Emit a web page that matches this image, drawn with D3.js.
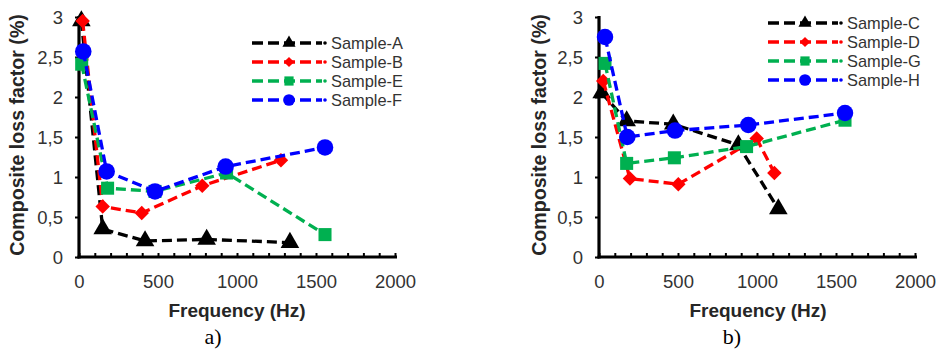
<!DOCTYPE html>
<html>
<head>
<meta charset="utf-8">
<script src="https://cdn.jsdelivr.net/npm/d3@7"></script>
<style>
  html, body { margin: 0; padding: 0; background: #fff; }
  svg { display: block; }
</style>
</head>
<body>
<svg id="chart" width="942" height="353"></svg>
<script>
// ---------- data ----------
const xTicks = [0, 500, 1000, 1500, 2000];
const yTicks = [0, 0.5, 1, 1.5, 2, 2.5, 3];
const yTickLabels = ["0", "0,5", "1", "1,5", "2", "2,5", "3"];

// Panel a)
const freqA = [15, 150, 418, 808, 1335];
const valA  = [2.95, 0.35, 0.2, 0.22, 0.18];
const freqB = [23, 150, 397, 780, 1278];
const valB  = [2.95, 0.63, 0.55, 0.89, 1.21];
const freqE = [17, 181, 481, 934, 1557];
const valE  = [2.41, 0.86, 0.82, 1.05, 0.28];
const freqF = [27, 175, 481, 928, 1557];
const valF  = [2.57, 1.07, 0.82, 1.13, 1.37];

// Panel b)
const freqC = [17, 175, 470, 882, 1135];
const valC  = [2.05, 1.7, 1.66, 1.4, 0.6];
const freqD = [27, 196, 502, 998, 1110];
const valD  = [2.2, 0.98, 0.91, 1.48, 1.05];
const freqG = [38, 175, 477, 934, 1557];
const valG  = [2.42, 1.17, 1.24, 1.38, 1.71];
const freqH = [38, 179, 481, 945, 1557];
const valH  = [2.75, 1.5, 1.58, 1.65, 1.8];

const namesA = ["Sample-A", "Sample-B", "Sample-E", "Sample-F"];
const namesB = ["Sample-C", "Sample-D", "Sample-G", "Sample-H"];
const panelLabels = ["a)", "b)"];
const xTitle = "Frequency (Hz)";
const yTitle = "Composite loss factor (%)";

// ---------- styles ----------
const COLORS = { black: "#000000", red: "#ff0000", green: "#00b050", blue: "#0000ff" };
const MARK = {
  tri:  { type: d3.symbolTriangle, size: 150, rot: 0 },
  dia:  { type: d3.symbolSquare,   size: 105, rot: 45 },
  sq:   { type: d3.symbolSquare,   size: 170, rot: 0 },
  circ: { type: d3.symbolCircle,   size: 215, rot: 0 }
};

const panels = [
  {
    x0: 79, label: panelLabels[0], labelX: 213, titleX: 237, yTitleX: 17,
    legend: { x: 252, y: 43 },
    series: [
      { name: namesA[0], f: freqA, v: valA, color: COLORS.black, mark: MARK.tri },
      { name: namesA[1], f: freqB, v: valB, color: COLORS.red,   mark: MARK.dia },
      { name: namesA[2], f: freqE, v: valE, color: COLORS.green, mark: MARK.sq },
      { name: namesA[3], f: freqF, v: valF, color: COLORS.blue,  mark: MARK.circ }
    ]
  },
  {
    x0: 599, label: panelLabels[1], labelX: 732, titleX: 758, yTitleX: 539,
    legend: { x: 768, y: 23 },
    series: [
      { name: namesB[0], f: freqC, v: valC, color: COLORS.black, mark: MARK.tri },
      { name: namesB[1], f: freqD, v: valD, color: COLORS.red,   mark: MARK.dia },
      { name: namesB[2], f: freqG, v: valG, color: COLORS.green, mark: MARK.sq },
      { name: namesB[3], f: freqH, v: valH, color: COLORS.blue,  mark: MARK.circ }
    ]
  }
];

const svg = d3.select("#chart");
const FONT = "Arial, 'Liberation Sans', Helvetica, sans-serif";

function drawPanel(p) {
  const g = svg.append("g");
  const x = d3.scaleLinear().domain([0, 2000]).range([p.x0, p.x0 + 316]);
  const y = d3.scaleLinear().domain([0, 3]).range([257, 17]);

  // x axis with minor ticks every 100 Hz
  const xAxis = d3.axisBottom(x)
    .tickValues(d3.range(0, 2001, 100))
    .tickSize(-4)
    .tickSizeOuter(0)
    .tickFormat(d => xTicks.includes(d) ? String(d) : "");
  const gx = g.append("g").attr("transform", `translate(0,${y(0)})`).call(xAxis);
  gx.select(".domain").attr("stroke", "#000").attr("stroke-width", 3.2)
    .attr("d", `M${x(0) - 1.5},0H${x(2000) + 2}`);
  gx.selectAll(".tick line").attr("stroke", "#000").attr("stroke-width", 2);
  gx.selectAll(".tick text")
    .attr("y", 0).attr("dy", 0)
    .attr("transform", "translate(0,31)")
    .attr("font-family", FONT).attr("font-size", 18.5).attr("fill", "#333");

  // y axis
  const yAxis = d3.axisLeft(y)
    .tickValues(yTicks)
    .tickSize(4)
    .tickSizeOuter(0)
    .tickFormat((d, i) => yTickLabels[i]);
  const gy = g.append("g").attr("transform", `translate(${x(0)},0)`).call(yAxis);
  gy.select(".domain").attr("stroke", "#000").attr("stroke-width", 3.2)
    .attr("d", `M0,${y(0) + 1.5}V${y(3) - 1}`);
  gy.selectAll(".tick line").attr("stroke", "#000").attr("stroke-width", 2);
  gy.selectAll(".tick text")
    .attr("x", -16).attr("dy", "0.35em")
    .attr("font-family", FONT).attr("font-size", 18.5).attr("fill", "#333");

  // axis titles
  g.append("text")
    .attr("x", p.titleX).attr("y", 317)
    .attr("text-anchor", "middle")
    .attr("font-family", FONT).attr("font-weight", "bold").attr("font-size", 19)
    .attr("fill", "#262626")
    .text(xTitle);
  g.append("text")
    .attr("transform", `translate(${p.yTitleX},135) rotate(-90)`)
    .attr("text-anchor", "middle").attr("dy", "0.35em")
    .attr("font-family", FONT).attr("font-weight", "bold").attr("font-size", 19.6)
    .attr("fill", "#262626")
    .text(yTitle);

  // panel label
  g.append("text")
    .attr("x", p.labelX).attr("y", 344)
    .attr("text-anchor", "middle")
    .attr("font-family", "'Times New Roman', 'Liberation Serif', serif")
    .attr("font-size", 22).attr("fill", "#000")
    .text(p.label);

  // series
  const line = d3.line().x(d => x(d[0])).y(d => y(d[1]));
  p.series.forEach(s => {
    const pts = s.f.map((f, i) => [f, s.v[i]]);
    g.append("path").datum(pts)
      .attr("d", line)
      .attr("fill", "none")
      .attr("stroke", s.color).attr("stroke-width", 3.3)
      .attr("stroke-dasharray", "10,5");
    g.selectAll(null).data(pts).enter().append("path")
      .attr("d", d3.symbol().type(s.mark.type).size(s.mark.size))
      .attr("transform", d => `translate(${x(d[0])},${y(d[1])}) rotate(${s.mark.rot})`)
      .attr("fill", s.color);
  });

  // legend
  const lg = g.append("g").attr("transform", `translate(${p.legend.x},${p.legend.y})`);
  p.series.forEach((s, i) => {
    const row = lg.append("g").attr("transform", `translate(0,${i * 19})`);
    row.append("line")
      .attr("x1", 0).attr("x2", 70).attr("y1", 0).attr("y2", 0)
      .attr("stroke", s.color).attr("stroke-width", 3.3)
      .attr("stroke-dasharray", "11,5");
    row.append("circle").attr("cx", 73).attr("cy", 0).attr("r", 1.8).attr("fill", s.color);
    row.append("path")
      .attr("d", d3.symbol().type(s.mark.type).size(s.mark.size * 0.5))
      .attr("transform", `translate(37,0) rotate(${s.mark.rot})`)
      .attr("fill", s.color);
    row.append("text")
      .attr("x", 79).attr("y", 0).attr("dy", "0.35em")
      .attr("font-family", FONT).attr("font-size", 16.4).attr("fill", "#333")
      .text(s.name);
  });
}

panels.forEach(drawPanel);
</script>
</body>
</html>
